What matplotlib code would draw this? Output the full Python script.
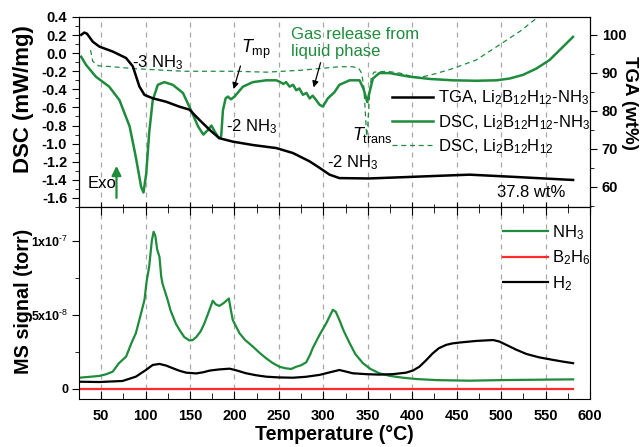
import matplotlib
matplotlib.use("Agg")
import matplotlib.pyplot as plt
from matplotlib.ticker import MultipleLocator, FixedLocator, FixedFormatter

plt.rcParams['font.family'] = ['Liberation Sans', 'DejaVu Sans']
plt.rcParams['mathtext.fontset'] = 'custom'
plt.rcParams['mathtext.rm'] = 'Liberation Sans'
plt.rcParams['mathtext.it'] = 'Liberation Sans:italic'
plt.rcParams['mathtext.bf'] = 'Liberation Sans:bold'

GREEN = '#1e8c3c'
RED = '#ff2a2a'

# DSC, Li2B12H12-NH3 (solid)
dsc_t = [27.5, 33, 44, 59, 70.6, 82, 89, 95, 97.6, 100.7, 104, 108, 113.7, 121, 130.6, 142, 151,
         159, 165, 170, 174, 178, 182.4, 185, 187, 190, 192.6, 196, 200, 209.5, 220.7, 235.7, 247,
         250.6, 255, 258, 262, 266, 269.5, 273, 277, 281, 284.5, 288, 292, 295.7, 299.5, 305,
         312.6, 318, 329.5, 340.7, 345, 349.4, 352, 355.7, 363, 374.4, 397, 419.6, 445.8, 472,
         494.7, 509.7, 524.6, 539.7, 554.6, 569.6, 580.9]
dsc_v = [-0.04, -0.13, -0.26, -0.37, -0.52, -0.81, -1.15, -1.48, -1.54, -1.33, -0.88, -0.52, -0.35,
         -0.32, -0.35, -0.44, -0.63, -0.81, -0.90, -0.85, -0.80, -0.87, -0.94, -0.92, -0.63, -0.50,
         -0.48, -0.51, -0.48, -0.37, -0.32, -0.30, -0.30, -0.315, -0.34, -0.32, -0.37, -0.35, -0.41,
         -0.39, -0.46, -0.44, -0.50, -0.47, -0.52, -0.57, -0.59, -0.50, -0.43, -0.35, -0.30, -0.30,
         -0.39, -0.54, -0.43, -0.28, -0.22, -0.22, -0.26, -0.285, -0.30, -0.305, -0.30, -0.28,
         -0.24, -0.17, -0.075, 0.07, 0.18]

# DSC, Li2B12H12 (dashed)
ref_t = [38, 40.5, 47, 63, 85.6, 123, 143, 170, 200, 235.7, 273, 295.7, 318, 333, 340, 343, 345.5,
         347.5, 348.7, 350, 352, 354, 357, 371, 386, 397, 408.3, 425, 445.8, 472, 494.7, 521,
         539.7, 543]
ref_v = [0.035, -0.09, -0.14, -0.15, -0.17, -0.19, -0.20, -0.20, -0.20, -0.21, -0.19, -0.17, -0.15,
         -0.15, -0.17, -0.22, -0.37, -0.70, -0.92, -0.80, -0.45, -0.26, -0.21, -0.20, -0.22, -0.25,
         -0.27, -0.23, -0.17, -0.075, 0.07, 0.24, 0.385, 0.43]

# TGA (wt%)
tga_t = [27.5, 31, 34, 40.5, 48, 63, 78, 85.6, 93, 98.7, 108, 123, 138, 149.4, 160.6, 172, 183,
         198, 220.7, 247, 265.7, 284.5, 295.7, 307, 318, 351, 397, 430, 464.6, 516, 581]
tga_w = [100.0, 100.6, 100.3, 98.2, 96.9, 95.6, 93.9, 91.7, 86.4, 84.2, 83.3, 82.4, 81.1, 80.3,
         77.6, 75.0, 72.8, 71.9, 71.0, 70.2, 68.9, 66.7, 65.0, 63.2, 62.3, 62.2, 62.6, 62.9, 63.2,
         62.6, 61.8]

# MS signals (units of 1e-8 torr)
nh3_t = [25.4, 48, 56, 63, 70, 78, 84, 89, 94, 98.7, 101, 104, 107, 109, 111, 113, 115.6, 117.5,
         119, 124.8, 128, 134, 139, 143.5, 149.4, 153, 157, 162, 166, 171, 175.6, 179, 183, 188,
         193.6, 196, 198, 205.6, 212, 220.6, 228, 235.6, 243, 250.6, 257, 263.8, 269.5, 275, 280.7,
         285, 288, 295.7, 303, 310.7, 314, 318, 323, 329.5, 336, 344.5, 353, 363, 375, 389.6, 405,
         427, 464.6, 501, 581]
nh3_m = [0.76, 0.88, 1.0, 1.17, 1.74, 2.18, 3.09, 3.76, 4.9, 6.0, 7.2, 8.26, 10.0, 10.6, 10.3, 9.4,
         8.9, 7.6, 7.1, 6.0, 5.3, 4.4, 3.9, 3.5, 3.27, 3.3, 3.5, 3.9, 4.4, 5.2, 5.95, 5.7, 5.6, 5.8,
         6.1, 5.3, 4.66, 3.76, 3.3, 2.86, 2.45, 2.07, 1.75, 1.5, 1.4, 1.35, 1.5, 1.6, 1.8, 2.3, 2.75,
         3.65, 4.4, 5.34, 5.2, 4.66, 3.9, 3.1, 2.35, 1.74, 1.35, 1.06, 0.88, 0.76, 0.67, 0.6, 0.56,
         0.6, 0.65]
h2_t = [25.4, 48, 74, 89, 100.3, 108, 115.6, 123, 130.6, 138, 145.7, 157, 165, 172, 183, 194.5,
        203, 213, 224, 235.6, 250, 265.7, 280, 295.7, 307, 318, 325, 333, 348, 363, 378, 393, 401,
        408, 415, 423, 430, 438, 445, 453, 472, 491, 498, 506, 517, 528.5, 543, 558.5, 570, 581]
h2_m = [0.49, 0.47, 0.54, 0.83, 1.28, 1.62, 1.69, 1.58, 1.40, 1.23, 1.10, 1.05, 1.13, 1.24, 1.32,
        1.37, 1.24, 1.06, 0.93, 0.83, 0.78, 0.76, 0.82, 0.95, 1.12, 1.28, 1.18, 1.06, 1.0, 0.97,
        1.0, 1.10, 1.25, 1.50, 1.90, 2.40, 2.75, 2.97, 3.07, 3.13, 3.24, 3.30, 3.2, 2.97, 2.65,
        2.36, 2.13, 1.96, 1.84, 1.74]
b2h6_t = [25, 581]
b2h6_m = [0.0, 0.0]

fig = plt.figure(figsize=(6.41, 4.47), dpi=100)
ax1 = fig.add_axes([0.1232, 0.537, 0.7972, 0.425])
ax3 = fig.add_axes([0.1232, 0.1074, 0.7972, 0.4296], sharex=ax1)
ax2 = ax1.twinx()

for a in (ax1, ax3):
    for xv in range(50, 600, 50):
        a.axvline(xv, color='#a8a8a8', lw=0.9, ls=(0, (4, 4)), zorder=0)

# top panel
l_dsc, = ax1.plot(dsc_t, dsc_v, color=GREEN, lw=1.8)
l_ref, = ax1.plot(ref_t, ref_v, color=GREEN, lw=0.9, ls=(0, (4, 3)))
l_tga, = ax2.plot(tga_t, tga_w, color='black', lw=1.8)

ax1.set_xlim(25, 600)
ax1.set_ylim(-1.7, 0.4)
ax2.set_ylim(54.7, 104.7)
ax1.yaxis.set_major_locator(MultipleLocator(0.2))
ax1.yaxis.set_minor_locator(MultipleLocator(0.1))
ax1.yaxis.set_major_formatter(plt.FuncFormatter(lambda v, p: f'{v:.1f}'))
ax2.yaxis.set_major_locator(FixedLocator([60, 70, 80, 90, 100]))
ax2.yaxis.set_minor_locator(MultipleLocator(5))
ax1.xaxis.set_major_locator(MultipleLocator(50))
ax1.xaxis.set_minor_locator(MultipleLocator(25))
ax1.tick_params(axis='x', which='both', direction='inout', labelbottom=False)
ax1.tick_params(axis='x', which='major', length=7)
ax1.tick_params(axis='x', which='minor', length=5)
ax1.tick_params(axis='y', which='major', direction='out', length=5, labelsize=10.5)
ax1.tick_params(axis='y', which='minor', direction='out', length=3)
ax2.tick_params(axis='y', which='major', direction='out', length=5, labelsize=10.5)
ax2.tick_params(axis='y', which='minor', direction='out', length=3)
for lab in ax1.get_yticklabels() + ax2.get_yticklabels():
    lab.set_fontweight('bold')

ax1.set_ylabel('DSC (mW/mg)', fontsize=16, fontweight='bold')
ax1.yaxis.set_label_coords(-0.088, 0.57)
ax2.set_ylabel('TGA (wt%)', fontsize=13.5, fontweight='bold', rotation=-90, va='center')
ax2.yaxis.set_label_coords(1.078, 0.547)

ax1.text(85.2, -0.11, '-3 NH$_3$', fontsize=12, va='center')
ax1.text(191, -0.817, '-2 NH$_3$', fontsize=12, va='center')
ax1.text(303.6, -1.215, '-2 NH$_3$', fontsize=12, va='center')
ax1.text(495, -1.536, '37.8 wt%', fontsize=12, va='center')
ax1.text(34.6, -1.436, 'Exo', fontsize=12, va='center')
ax1.annotate('', xy=(67.2, -1.215), xytext=(67.2, -1.63),
             arrowprops=dict(arrowstyle='-|>', color=GREEN, lw=1.6, mutation_scale=14))
ax1.text(207.6, 0.04, r'$T_{\mathrm{mp}}$', fontsize=13, va='center')
ax1.annotate('', xy=(198.1, -0.426), xytext=(207.6, -0.112),
             arrowprops=dict(arrowstyle='-|>', color='black', lw=0.9, mutation_scale=9))
ax1.text(263.9, 0.112, 'Gas release from\nliquid phase', fontsize=12, color=GREEN,
         va='center', linespacing=1.2)
ax1.annotate('', xy=(288.2, -0.408), xytext=(297.7, -0.076),
             arrowprops=dict(arrowstyle='-|>', color='black', lw=0.9, mutation_scale=9))
ax1.text(331.8, -0.905, r'$T_{\mathrm{trans}}$', fontsize=13, va='center')

ax1.legend([l_tga, l_dsc, l_ref],
           ['TGA, Li$_2$B$_{12}$H$_{12}$-NH$_3$', 'DSC, Li$_2$B$_{12}$H$_{12}$-NH$_3$',
            'DSC, Li$_2$B$_{12}$H$_{12}$'],
           loc='upper left', bbox_to_anchor=(0.612, 0.622), frameon=False, fontsize=12,
           handlelength=2.5, handletextpad=0.25, labelspacing=0.33, borderpad=0, borderaxespad=0)

# bottom panel
l_nh3, = ax3.plot(nh3_t, [m * 1e-8 for m in nh3_m], color=GREEN, lw=1.6)
l_b2h6, = ax3.plot(b2h6_t, [m * 1e-8 for m in b2h6_m], color=RED, lw=1.6)
l_h2, = ax3.plot(h2_t, [m * 1e-8 for m in h2_m], color='black', lw=1.6)

ax3.set_ylim(-0.674e-8, 1.227e-7)
ax3.yaxis.set_major_locator(FixedLocator([0, 5e-8, 1e-7]))
ax3.yaxis.set_major_formatter(FixedFormatter(['0', r'5x10$^{\text{-8}}$', r'1x10$^{\text{-7}}$']))
ax3.yaxis.set_minor_locator(MultipleLocator(2.5e-8))
ax3.tick_params(axis='y', which='major', direction='out', length=5, labelsize=9, pad=2.5)
ax3.tick_params(axis='y', which='minor', direction='out', length=3)
ax3.tick_params(axis='x', which='major', direction='in', length=6, labelsize=10.5, top=True, pad=7)
ax3.tick_params(axis='x', which='minor', direction='in', length=4, top=True)
for lab in ax3.get_yticklabels() + ax3.get_xticklabels():
    lab.set_fontweight('bold')

ax3.set_ylabel('MS signal (torr)', fontsize=14.2, fontweight='bold')
ax3.yaxis.set_label_coords(-0.09, 0.508)
ax3.set_xlabel('Temperature (°C)', fontsize=14.2, fontweight='bold')
ax3.xaxis.set_label_coords(0.5, -0.135)

ax3.legend([l_nh3, l_b2h6, l_h2], ['NH$_3$', 'B$_2$H$_6$', 'H$_2$'],
           loc='upper left', bbox_to_anchor=(0.829, 0.915), frameon=False, fontsize=12,
           handlelength=2.7, handletextpad=0.25, labelspacing=0.4, borderpad=0, borderaxespad=0)

fig.savefig('out.png', dpi=100)
